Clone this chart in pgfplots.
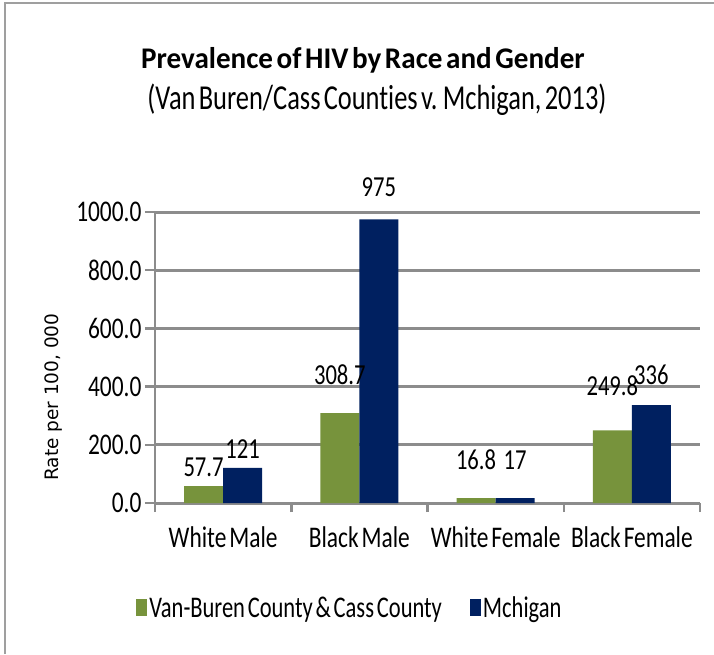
\documentclass[border=0pt]{standalone}
\usepackage{pgfplots}
\pgfplotsset{compat=1.18}
\usepackage{pgfplotstable}
\usepackage{fontspec}
\setmainfont{Carlito}[FakeStretch=0.78, Ligatures=NoCommon, WordSpace=0.55]
\newfontfamily\titlefont{Carlito}[FakeStretch=0.97, Ligatures=NoCommon, WordSpace=0.55]
\newfontfamily\subfont{Carlito}[FakeStretch=0.755, Ligatures=NoCommon, WordSpace=0.55]
\newfontfamily\legfont{Carlito}[FakeStretch=0.75, Ligatures=NoCommon, WordSpace=0.55]
\newfontfamily\labfont{DejaVu Sans}
\definecolor{vgreen}{HTML}{77933C}
\definecolor{mnavy}{HTML}{002060}
\definecolor{gridgray}{HTML}{8C8C8C}
\pgfplotstableread{
x y lab off
0 57.7 57.7 19
1 308.7 308.7 38
2 16.8 16.8 38
3 249.8 249.8 45
}\vbdata
\pgfplotstableread{
x y lab off
0 121 121 19
1 975 975 32
2 17 17 38
3 336 336 30
}\midata
\begin{document}
\begin{tikzpicture}[x=1pt,y=1pt]
\useasboundingbox (0,0) rectangle (714,654);
\draw[gray!75, line width=1.5pt] (5,0) -- (5,651) -- (714,651);
\node[font=\titlefont\fontsize{30}{36}\selectfont\bfseries] at (363,594) {Prevalence of HIV by Race and Gender};
\node[font=\subfont\fontsize{35}{40}\selectfont] at (377,554) {(Van Buren/Cass Counties v. Mchigan, 2013)};
\begin{axis}[
 at={(155pt,151pt)}, anchor=south west, scale only axis,
 width=545pt, height=291pt,
 ymin=0, ymax=1000, xmin=-0.5, xmax=3.5,
 ybar=0pt, bar width=0.287,
 axis lines*=left,
 axis line style={gridgray, line width=2.5pt, -},
 ymajorgrids, grid style={gridgray, line width=3pt},
 ytick={0,200,...,1000},
 tick align=outside,
 major tick length=10pt, minor tick length=9pt,
 tick style={gridgray, line width=2.5pt},
 xtick={0,1,2,3},
 xticklabels={White Male, Black Male, White Female, Black Female},
 major x tick style={draw=none},
 minor xtick={-0.5,0.5,1.5,2.5,3.5},
 /pgf/number format/assume math mode=true,
 yticklabel={\pgfmathprintnumber[fixed, fixed zerofill, precision=1, 1000 sep={}]{\tick}},
 tick label style={font=\fontsize{30}{34}\selectfont},
 xticklabel style={yshift=-10pt},
 ylabel={Rate per 100, 000},
 ylabel style={font=\labfont\fontsize{18.5}{22}\selectfont, at={(axis description cs:-0.187,0.364)}, anchor=center},
 legend style={at={(axis description cs:-0.04,-0.361)}, anchor=west, draw=none,
   font=\legfont\fontsize{30}{34}\selectfont, legend columns=2,
   /tikz/every even column/.append style={column sep=26pt}},
 legend image code/.code={\path[#1, draw=none] (0pt,-8pt) rectangle (11pt,9pt);},
 nodes near coords, point meta=explicit symbolic,
 visualization depends on={\thisrow{off} \as \myoff},
 every node near coord/.append style={font=\fontsize{29}{33}\selectfont, anchor=center, yshift=\myoff pt, text=black},
]
\addplot[fill=vgreen, draw=none] table[x=x, y=y, meta=lab] {\vbdata};
\addplot[fill=mnavy, draw=none] table[x=x, y=y, meta=lab] {\midata};
\legend{Van-Buren County \& Cass County, Mchigan}
\end{axis}
\end{tikzpicture}
\end{document}
